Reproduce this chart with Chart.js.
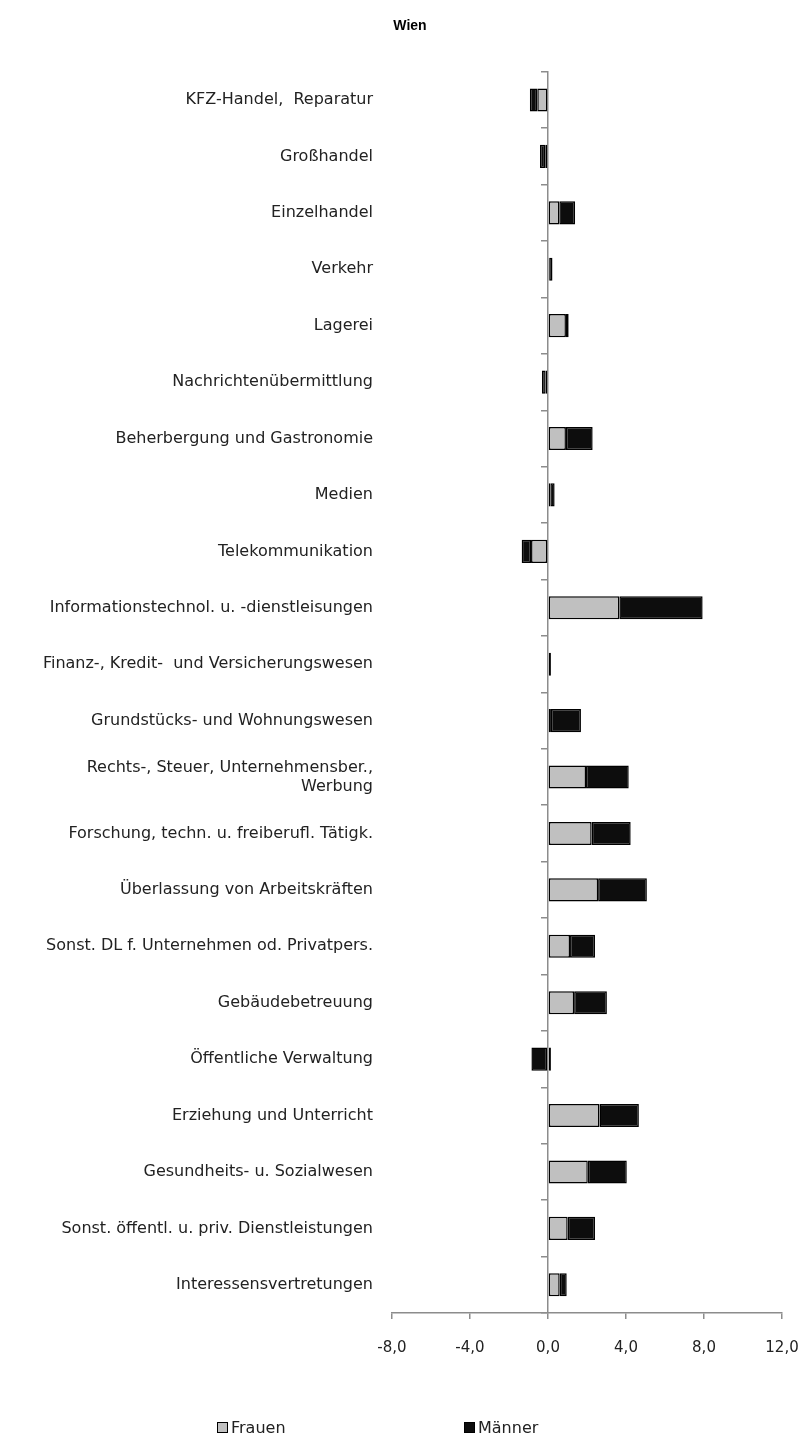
<!DOCTYPE html>
<html>
<head>
<meta charset="utf-8">
<script src="https://cdn.jsdelivr.net/npm/chart.js@4.4.1/dist/chart.umd.min.js"></script>
<style>
    body { margin: 0; background: #fff; }
    #wrap { position: relative; width: 804px; height: 1437px; }
    #legend { position: absolute; left: 0; top: 1418px; width: 804px; height: 20px;
              font-family: "DejaVu Sans", sans-serif; font-size: 16px; color: #222; }
    .item { position: absolute; top: 0; display: flex; align-items: center; }
    .box { width: 9px; height: 9px; border: 1.5px solid #000; margin-right: 3px; }
</style>
</head>
<body>
<div id="wrap">
    <canvas id="chart" width="804" height="1437"></canvas>
    <div id="legend"></div>
</div>
<script>
// Kategorien (Branchen)
const categories = [
    'KFZ-Handel,  Reparatur',
    'Großhandel',
    'Einzelhandel',
    'Verkehr',
    'Lagerei',
    'Nachrichtenübermittlung',
    'Beherbergung und Gastronomie',
    'Medien',
    'Telekommunikation',
    'Informationstechnol. u. -dienstleisungen',
    'Finanz-, Kredit-  und Versicherungswesen',
    'Grundstücks- und Wohnungswesen',
    ['Rechts-, Steuer, Unternehmensber.,', 'Werbung'],
    'Forschung, techn. u. freiberufl. Tätigk.',
    'Überlassung von Arbeitskräften',
    'Sonst. DL f. Unternehmen od. Privatpers.',
    'Gebäudebetreuung',
    'Öffentliche Verwaltung',
    'Erziehung und Unterricht',
    'Gesundheits- u. Sozialwesen',
    'Sonst. öffentl. u. priv. Dienstleistungen',
    'Interessensvertretungen'
];

// Werte
const frauen = [-0.55, -0.14, 0.58, 0.06, 0.92, -0.12, 0.92, 0.12, -0.87, 3.66, 0.05,
                0.15, 1.95, 2.24, 2.57, 1.13, 1.34, 0.15, 2.64, 2.04, 1.01, 0.60];
const maenner = [-0.38, -0.27, 0.81, 0.17, 0.14, -0.19, 1.37, 0.22, -0.48, 4.27, 0.10,
                 1.54, 2.19, 2.00, 2.50, 1.28, 1.68, -0.85, 2.02, 2.00, 1.40, 0.36];

// Achse
const xTicks = [-8, -4, 0, 4, 8, 12];

const seriesColors = { frauen: '#c0c0c0', maenner: '#0d0d0d' };
const axisGrey = '#8c8c8c';
const labelFont = { family: 'DejaVu Sans', size: 16 };

const ctx = document.getElementById('chart').getContext('2d');
const chart = new Chart(ctx, {
    type: 'bar',
    data: {
        labels: categories,
        datasets: [
            {
                label: 'Frauen',
                data: frauen,
                backgroundColor: seriesColors.frauen,
                borderColor: '#000',
                borderWidth: 1.5,
                borderSkipped: false,
                categoryPercentage: 1,
                barPercentage: 0.41
            },
            {
                label: 'Männer',
                data: maenner,
                backgroundColor: seriesColors.maenner,
                borderColor: '#000',
                borderWidth: 1.5,
                borderSkipped: false,
                categoryPercentage: 1,
                barPercentage: 0.41
            }
        ]
    },
    options: {
        indexAxis: 'y',
        responsive: false,
        animation: false,
        layout: { padding: { left: 38, right: 22, top: 0, bottom: 60 } },
        scales: {
            x: {
                stacked: true,
                min: xTicks[0],
                max: xTicks[xTicks.length - 1],
                afterBuildTicks: (scale) => { scale.ticks = xTicks.map(v => ({ value: v })); },
                afterFit: (scale) => { scale.paddingLeft = 0; scale.paddingRight = 0; },
                ticks: {
                    color: '#222',
                    font: { family: 'DejaVu Sans', size: 15 },
                    padding: 20,
                    maxRotation: 0,
                    callback: (v) => Number(v).toFixed(1).replace('.', ',')
                },
                grid: {
                    drawOnChartArea: false,
                    drawTicks: true,
                    tickLength: 6,
                    color: axisGrey,
                    lineWidth: 1.5
                },
                border: { display: true, color: axisGrey, width: 1.5 }
            },
            y: {
                stacked: true,
                position: 'left',
                afterFit: (scale) => { scale.width = 354; },
                ticks: {
                    color: '#222',
                    font: labelFont,
                    padding: 11,
                    autoSkip: false
                },
                grid: { display: false },
                border: { display: false }
            },
            yZero: {
                type: 'category',
                labels: categories,
                position: { x: 0 },
                offset: true,
                afterFit: (scale) => { scale.width = 0; },
                ticks: { display: false },
                grid: {
                    drawOnChartArea: false,
                    drawTicks: true,
                    tickLength: 6,
                    color: axisGrey,
                    lineWidth: 1.5,
                    offset: true
                },
                border: { display: true, color: axisGrey, width: 1.5 }
            }
        },
        plugins: {
            legend: { display: false },
            tooltip: { enabled: false },
            title: {
                display: true,
                text: 'Wien',
                color: '#000',
                font: { family: 'Liberation Sans', size: 14, weight: 'bold' },
                padding: { top: 18, bottom: 37 }
            }
        }
    }
});

// Legende als HTML
const legend = document.getElementById('legend');
const legendPos = [217, 464];
chart.data.datasets.forEach((ds, i) => {
    const item = document.createElement('div');
    item.className = 'item';
    item.style.left = legendPos[i] + 'px';
    const box = document.createElement('span');
    box.className = 'box';
    box.style.background = ds.backgroundColor;
    const txt = document.createElement('span');
    txt.textContent = ds.label;
    item.appendChild(box);
    item.appendChild(txt);
    legend.appendChild(item);
});
</script>
</body>
</html>
